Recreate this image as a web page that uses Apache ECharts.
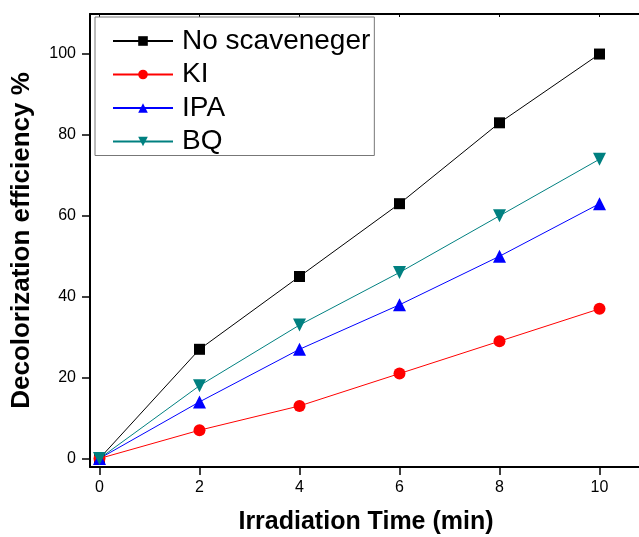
<!DOCTYPE html>
<html><head><meta charset="utf-8">
<script src="https://cdn.jsdelivr.net/npm/echarts@6/dist/echarts.min.js"></script>
<style>html,body{margin:0;padding:0;background:#fff}#c{width:639px;height:537px}</style>
</head><body><div id="c"></div>
<script>
const times = [0, 2, 4, 6, 8, 10];
const noScavenger = [0, 27, 45, 63, 83, 100];
const kiVals = [0, 7, 13, 21, 29, 37];
const ipaVals = [0, 14, 27, 38, 50, 63];
const bqVals = [0, 18, 33, 46, 60, 74];
const xTicks = [0, 2, 4, 6, 8, 10];
const yTicks = [0, 20, 40, 60, 80, 100];
const seriesNames = ['No scaveneger', 'KI', 'IPA', 'BQ'];

const font = 'Liberation Sans, Arial, sans-serif';
const chart = echarts.init(document.getElementById('c'), null, {renderer: 'canvas'});
function pairs(vals) { return times.map((t, i) => [t, vals[i]]); }
function mk(name, vals, color, symbol, size, rotate) {
  return {
    name, type: 'line', data: pairs(vals), symbol, symbolSize: size, symbolRotate: rotate || 0,
    lineStyle: {color, width: 1}, itemStyle: {color, borderWidth: 0}, emphasis: {disabled: true},
    animation: false, z: 3
  };
}
chart.setOption({
  animation: false,
  grid: {left: 90, right: -3, top: 14, bottom: 70, containLabel: false, outerBoundsMode: 'none'},
  legend: {
    left: 95, top: 17, orient: 'vertical', itemWidth: 60, itemHeight: 12, itemGap: 5.5,
    padding: [10, 4, 0, 17], borderColor: '#777', borderWidth: 1, backgroundColor: '#fff',
    textStyle: {fontFamily: font, fontSize: 28, lineHeight: 28, color: '#000', padding: [0, 0, 0, 4]},
    data: seriesNames.map(n => ({name: n}))
  },
  xAxis: [{
    type: 'value', min: -0.19, max: 10.85, position: 'bottom',
    name: 'Irradiation Time (min)', nameLocation: 'middle', nameGap: 43,
    nameTextStyle: {fontFamily: font, fontSize: 25, fontWeight: 'bold', color: '#000'},
    axisLine: {show: true, onZero: false, lineStyle: {color: '#000', width: 2}},
    axisTick: {show: true, length: 8, inside: false, customValues: xTicks, lineStyle: {color: '#000', width: 1.5}},
    axisLabel: {customValues: xTicks, fontFamily: font, fontSize: 16, color: '#000', margin: 13},
    splitLine: {show: false}
  }, {
    type: 'value', min: -0.19, max: 10.85, position: 'top',
    axisLine: {show: true, onZero: false, lineStyle: {color: '#000', width: 2}},
    axisTick: {show: true, length: 3, inside: true, customValues: xTicks, lineStyle: {color: '#000', width: 1}},
    axisLabel: {show: false}, splitLine: {show: false}
  }],
  yAxis: [{
    type: 'value', min: -2.1, max: 109.9, position: 'left',
    name: 'Decolorization efficiency %', nameLocation: 'middle', nameGap: 55,
    nameTextStyle: {fontFamily: font, fontSize: 26, fontWeight: 'bold', color: '#000'},
    axisLine: {show: true, onZero: false, lineStyle: {color: '#000', width: 2}},
    axisTick: {show: true, length: 8, inside: false, customValues: yTicks, lineStyle: {color: '#000', width: 1.5}},
    axisLabel: {customValues: yTicks, fontFamily: font, fontSize: 16, color: '#000', margin: 14},
    splitLine: {show: false}
  }, {
    type: 'value', min: -2.1, max: 109.9, position: 'right',
    axisLine: {show: true, onZero: false, lineStyle: {color: '#000', width: 2}},
    axisTick: {show: false}, axisLabel: {show: false}, splitLine: {show: false}
  }],
  series: [
    mk(seriesNames[0], noScavenger, '#000000', 'rect', 11),
    mk(seriesNames[1], kiVals, '#ff0000', 'circle', 12),
    mk(seriesNames[2], ipaVals, '#0000ff', 'triangle', 13),
    mk(seriesNames[3], bqVals, '#008080', 'triangle', 13, 180)
  ]
});
</script></body></html>
